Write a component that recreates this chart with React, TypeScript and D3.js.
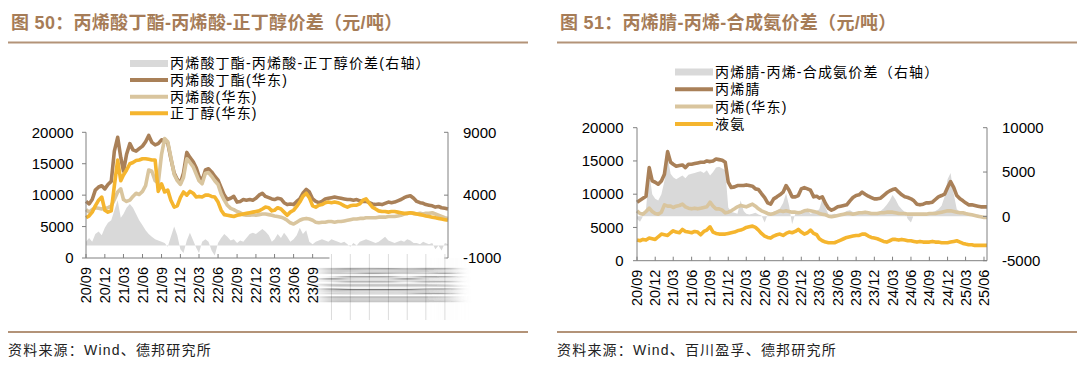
import React from "react";
import * as d3 from "d3";

// half-monthly readings, first point 2020-09-01
const baPrice = [
  9000, 8600, 9300, 10800, 11300, 11500, 11000, 11700, 12200, 17000, 19200, 16000,
  13800, 16500, 18200, 17200, 17000, 17400, 17800, 18500, 19500, 18400, 18000, 18200,
  18800, 18700, 18300, 15800, 13500, 12500, 11900, 13500, 16800, 16000, 15300, 14300,
  13000, 12300, 14000, 14200, 13700, 13000, 12400, 11200, 10000, 9300, 9500, 9800,
  8900, 9000, 9300, 9200, 9300, 9200, 9500, 10000, 10300, 9800, 9600, 9400,
  9300, 9500, 9400, 8800, 8500, 8600, 8500, 9000, 9400, 10300, 10900, 10500,
  9400, 9000, 8800, 9000, 9400, 9500, 9600, 9700, 9600, 9500, 9400, 9300,
  9300, 9200, 9300, 9100, 9000, 9000, 8800, 8600, 8500, 8600, 8500, 8700,
  8900, 8800, 8900, 9100, 9300, 9600, 9800, 9900, 9500, 9000, 8800, 8700,
  8500, 8400, 8300, 8100, 8200, 8000, 7900, 7800,
];
const aaPrice = [
  7700, 7300, 7700, 8000, 7900, 7800, 7900, 8000, 8300, 9300, 10500, 11000,
  9300, 9000, 9200, 9800, 10300, 10100, 10600, 11500, 14000, 13800, 12300, 11900,
  16500, 19000, 18500, 16000, 13300, 12300, 11700, 12800, 15800, 15200, 14500, 13300,
  12300, 11800, 13500, 13600, 13000, 12300, 11700, 10200, 9200, 8400, 7900, 7700,
  7400, 7200, 6900, 6800, 6800, 6900, 6800, 6900, 7000, 7000, 6900, 6800,
  6700, 6600, 6500, 6300, 6000, 5600, 5400, 5700, 6000, 6200, 6300, 6200,
  6000, 5700, 5600, 5700, 5700, 5800, 5800, 5700, 5800, 5800, 5900, 6000,
  6100, 6200, 6200, 6300, 6300, 6400, 6400, 6400, 6400, 6500, 6500, 6500,
  6600, 6600, 6600, 6700, 6800, 7000, 7100, 7200, 7100, 7000, 7100, 7000,
  7100, 7100, 7200, 7000, 6800, 6600, 6400, 6300,
];
const buohPrice = [
  6400, 6700, 7300, 8300, 9200, 9700, 7600, 7300, 7500, 11500, 15600, 12300,
  13200, 14000, 15000, 15200, 15500, 15600, 15800, 15800, 15700, 15600, 15600, 10600,
  11800, 10500, 10800, 9200, 8100, 8300, 9600, 10500, 10000, 10600, 10300, 9700,
  9800, 9700, 10000, 10000, 9800, 9700, 8900, 7600, 6900, 6800, 6700, 6600,
  6800, 6900, 7000, 7100, 7200, 7300, 7400, 7500, 7800, 8100, 8000, 7500,
  7600, 8000, 7800, 7300, 6800, 7300, 7600, 8200, 8900, 9800, 10300, 9600,
  8300, 8100, 8400, 8500, 8800, 8900, 8800, 8900, 8800, 8600, 8300, 8100,
  8300, 8400, 8400, 8600, 9200, 9400, 8700, 8100, 7800, 7500, 7400, 7400,
  7300, 7400, 7400, 7300, 7200, 7100, 7100, 7200, 7100, 7000, 6900, 6800,
  6700, 6600, 6500, 6400, 6300, 6200, 6100, 6000,
];
const baSpread = [
  300, 600, 300, 900, 1100, 800, 1400, 1800, 2000, 2800, 3600, 2200,
  2500, 3000, 3300, 3000, 2500, 2000, 1600, 1200, 900, 700, 500, 400,
  300, 200, -100, 700, 1500, 800, -300, -600, 400, 1000, 400, -200,
  -600, 300, 500, 300, -400, -800, 200, 600, 900, 700, 400, 500,
  200, 400, 300, 600, 900, 1000, 900, 1100, 1300, 1100, 800, 300,
  500, 900, 600, 1000, 700, 300, 500, 800, 1400, 900, 1200, 300,
  100, 300, 400, 500, 400, 300, 500, 400, 300, 200, 300, 100,
  -100, 200, 0, 300, 400, 500, 400, 300, 200, 300, 500, 700,
  400, 300, 200, 300, 400, 300, 500, 400, 200, 200, 100, 300,
  200, 100, 200, -300, 0, -400, 200, 100,
];

const acnPrice = [
  8800, 9100, 9400, 9700, 14000, 12000, 11800, 11500, 12000, 13000, 16400, 14800,
  14500, 14200, 14300, 14400, 14000, 14500, 14500, 14600, 14700, 14800, 14800, 15000,
  14900, 15000, 15300, 15200, 15100, 14800, 11800, 11000, 11100, 11300, 11300, 11300,
  11400, 11300, 11200, 10800, 10700, 10100, 9500, 8700, 8500, 9300, 9600, 9900,
  10300, 11300, 10600, 9600, 9600, 9800, 10800, 11000, 10800, 10600, 9600, 9700,
  9400, 9600, 8600, 7900, 7600, 7800, 8100, 8200, 8300, 8400, 9000, 9500,
  9800, 9900, 10300, 10000, 9700, 9500, 9300, 9300, 9400, 9800, 10200, 10500,
  10700, 10800, 10300, 9900, 9600, 9500, 9300, 9000, 8500, 8400, 8500, 8700,
  8700, 8800, 9200, 9600, 9800, 10000, 11000, 11900, 11000, 9800, 9300, 9000,
  8700, 8400, 8400, 8300, 8200, 8100, 8100, 8100,
];
const propPrice = [
  7500, 7100, 7000, 7400, 7900, 7400, 7100, 7000, 7300, 8400, 8200, 8200,
  8000, 8200, 8300, 8500, 8100, 7900, 7800, 7900, 7800, 7900, 8000, 8100,
  8800, 8200, 7800, 7800, 7600, 7200, 7300, 7500, 7800, 8100, 8300, 8200,
  8100, 8300, 8500, 8200, 7800, 7500, 7300, 7100, 7000, 7100, 7300, 7500,
  7400, 7500, 7400, 7300, 7300, 7200, 7300, 7500, 7600, 7500, 7400, 7300,
  7100, 7000, 6900, 6700, 6600, 6700, 6800, 6900, 7000, 7100, 7100, 7000,
  7100, 7200, 7200, 7300, 7200, 7100, 7100, 7100, 7200, 7200, 7300, 7300,
  7300, 7200, 7100, 7100, 7100, 7000, 7000, 7000, 7000, 7000, 7000, 7000,
  7100, 7100, 7100, 7200, 7300, 7400, 7500, 7500, 7400, 7300, 7200, 7200,
  7100, 7000, 6900, 6800, 6700, 6600, 6500, 6500,
];
const nh3Price = [
  3100, 3000, 3200, 3100, 3400, 3300, 3200, 3600, 4000, 3900, 3800, 4200,
  4500, 4300, 4200, 4700, 4400, 4300, 4200, 4400, 4300, 3900, 4400, 4600,
  5100, 4300, 4100, 4000, 4000, 4000, 4100, 4200, 4300, 4500, 4600, 4800,
  5000, 5100, 5200, 5000, 4600, 4100, 3700, 3500, 3400, 3700, 3900, 4000,
  3800, 4100, 4300, 4200, 4400, 4700, 4300, 4000, 4200, 4600, 4100, 3900,
  3300, 3000, 2800, 2700, 2700, 2700, 2900, 3100, 3300, 3500, 3600, 3700,
  3800, 3800, 4000, 4000, 3700, 3500, 3400, 3300, 3100, 2900, 2800, 3000,
  3200, 3200, 3100, 3200, 3100, 3000, 3000, 2900, 2800, 2900, 2800, 2800,
  2800, 2900, 2800, 2800, 2700, 2700, 2700, 2800, 2900, 3000, 2800, 2600,
  2500, 2400, 2400, 2300, 2300, 2300, 2300, 2300,
];
const acnSpread = [
  -300, -600, 0, 800, 5000, 2500, 2000, 1800, 2500, 4000, 6700, 4800,
  4400, 4200, 4400, 4600, 4300, 4700, 4800, 4900, 5000, 5100, 4900, 5200,
  4600, 5000, 5500, 5600, 5400, 5200, 1000, 500, 400, 300, 1800, 600,
  300, 200, 300, 400, 200, 100, -700, 200, 300, 500, 700, 900,
  1500, 2600, 1200, -900, 300, 400, 200, 800, 600, 300, 400, 600,
  800, 2000, 1000, 200, 200, 300, 200, 300, 400, 600, 700, 500,
  400, 500, 600, 400, 300, 500, 400, 300, 600, 900, 1300, 1800,
  2400, 1900, 1200, 800, 500, -300, -700, 200, 400, 300, 400, 300,
  400, 500, 600, 800, 1200, 2200, 4200, 4900, 2500, 800, 500, 300,
  200, 300, 200, 100, 200, 100, 0, -100,
];

const tickLabels = [
  "20/09", "20/12", "21/03", "21/06", "21/09", "21/12", "22/03", "22/06", "22/09", "22/12",
  "23/03", "23/06", "23/09", "23/12", "24/03", "24/06", "24/09", "24/12", "25/03", "25/06",
];

const BROWN = "#a98058";
const TAN = "#d9c59e";
const YELLOW = "#f5b52e";
const GRAY = "#d9d9d9";
const AXIS = "#808080";
const NUM_FONT = "'Liberation Sans', Arial, sans-serif";
const CJK_FONT = "'Liberation Sans', 'Noto Sans CJK SC', sans-serif";

const dates = baPrice.map((_, i) => new Date(2020, 8 + Math.floor(i / 2), i % 2 ? 16 : 1));
const tickDates = tickLabels.map(s => new Date(2000 + +s.slice(0, 2), +s.slice(3) - 1, 1));

function Panel(props) {
  const { cfg } = props;
  const p = cfg.plot;
  const x = d3.scaleTime().domain([dates[0], dates[dates.length - 1]]).range([p.l, p.r]);
  const yL = d3.scaleLinear().domain([0, 20000]).range([p.b, p.t]);
  const yR = d3.scaleLinear().domain(cfg.rightDomain).range([p.b, p.t]);

  const line = d3.line<number>().x((_, i) => x(dates[i])).y(d => yL(d));
  const area = d3.area<number>().x((_, i) => x(dates[i])).y0(yR(0)).y1(d => yR(d));

  const blurFrom = cfg.blurFrom ?? tickLabels.length;
  const axisEnd = cfg.blurFrom != null ? x(tickDates[blurFrom]) - 2 : p.r;

  return (
    <g>
      <text x={cfg.x0 + 3} y={29} fontFamily={CJK_FONT} fontSize={18} letterSpacing={0.3} fontWeight="bold" fill="#a67c57">
        {cfg.title}
      </text>
      <line x1={cfg.x0} x2={cfg.x0 + 520} y1={42.5} y2={42.5} stroke="#b39378" strokeWidth={2} />
      <line x1={cfg.x0} x2={cfg.x0 + 520} y1={332} y2={332} stroke="#b39378" strokeWidth={2} />
      <text x={cfg.x0} y={355} fontFamily={CJK_FONT} fontSize={14} letterSpacing={1.2} fill="#222">
        {cfg.source}
      </text>

      {/* legend */}
      <rect x={cfg.legend.x} y={cfg.legend.y - 3.5} width={38} height={7} fill={GRAY} />
      <text x={cfg.legend.x + 40} y={cfg.legend.y} dy="0.35em" fontFamily={CJK_FONT} fontSize={14} letterSpacing={1.2}>
        {cfg.spread.name}
      </text>
      {cfg.lines.map((s, i) => {
        const ly = cfg.legend.y + (i + 1) * cfg.legend.step;
        return (
          <g key={s.name}>
            <line x1={cfg.legend.x} x2={cfg.legend.x + 38} y1={ly} y2={ly} stroke={s.color} strokeWidth={4} />
            <text x={cfg.legend.x + 40} y={ly} dy="0.35em" fontFamily={CJK_FONT} fontSize={14} letterSpacing={1.2}>
              {s.name}
            </text>
          </g>
        );
      })}

      {/* spread on right axis */}
      <path d={area(cfg.spread.values)} fill={GRAY} />
      {cfg.lines.map(s => (
        <path key={s.name} d={line(s.values)} fill="none" stroke={s.color} strokeWidth={3.6} strokeLinejoin="round" />
      ))}

      {/* left axis */}
      <line x1={p.l} x2={p.l} y1={p.t} y2={p.b} stroke={AXIS} />
      {yL.ticks(4).map(t => (
        <g key={t}>
          <line x1={p.l - 4} x2={p.l} y1={yL(t)} y2={yL(t)} stroke={AXIS} />
          <text x={cfg.leftLabelX} y={yL(t)} dy="0.35em" textAnchor="end" fontFamily={NUM_FONT} fontSize={15}>
            {t}
          </text>
        </g>
      ))}

      {/* right axis */}
      <line x1={p.r} x2={p.r} y1={p.t} y2={p.b} stroke={AXIS} />
      {cfg.rightTicks.map(t => (
        <g key={t}>
          <line x1={p.r - 4} x2={p.r} y1={yR(t)} y2={yR(t)} stroke={AXIS} />
          <text x={cfg.rightLabelX} y={yR(t)} dy="0.35em" fontFamily={NUM_FONT} fontSize={15}>
            {t}
          </text>
        </g>
      ))}

      {/* bottom axis */}
      <line x1={p.l} x2={axisEnd} y1={p.b} y2={p.b} stroke={AXIS} />
      {tickDates.map((d, i) => (
        i < blurFrom ? (
          <g key={i}>
            <line x1={x(d)} x2={x(d)} y1={p.b} y2={p.b - 4} stroke={AXIS} />
            <text transform={`translate(${x(d)},${p.b + 9}) rotate(-90)`} dy="0.35em" textAnchor="end"
              fontFamily={NUM_FONT} fontSize={14.5}>
              {tickLabels[i]}
            </text>
          </g>
        ) : (
          <line key={i} x1={x(d)} x2={x(d)} y1={p.b - 4} y2={p.b + 62} stroke="#dcdcdc" />
        )
      ))}
      {cfg.blurFrom != null && (
        <g filter="url(#smear)">
          <line x1={p.r} x2={p.r} y1={p.b} y2={p.b + 62} stroke="#cfcfcf" />
          {tickDates.slice(blurFrom).map((d, i) => (
            <text key={i} transform={`translate(${x(d)},${p.b + 9}) rotate(-90)`} dy="0.35em" textAnchor="end"
              fontFamily={NUM_FONT} fontSize={14.5}>
              {tickLabels[blurFrom + i]}
            </text>
          ))}
        </g>
      )}
    </g>
  );
}

const leftCfg = {
  x0: 8,
  title: "图 50：丙烯酸丁酯-丙烯酸-正丁醇价差（元/吨）",
  source: "资料来源：Wind、德邦研究所",
  plot: { l: 86, r: 448, t: 132.3, b: 258 },
  rightDomain: [-1000, 9000],
  rightTicks: [-1000, 4000, 9000],
  leftLabelX: 73.5,
  rightLabelX: 463,
  legend: { x: 130, y: 63.5, step: 16.6 },
  spread: { name: "丙烯酸丁酯-丙烯酸-正丁醇价差(右轴）", values: baSpread },
  lines: [
    { name: "丙烯酸丁酯(华东)", values: baPrice, color: BROWN },
    { name: "丙烯酸(华东)", values: aaPrice, color: TAN },
    { name: "正丁醇(华东)", values: buohPrice, color: YELLOW },
  ],
  blurFrom: 13,
};

const rightCfg = {
  x0: 557,
  title: "图 51：丙烯腈-丙烯-合成氨价差（元/吨）",
  source: "资料来源：Wind、百川盈孚、德邦研究所",
  plot: { l: 637, r: 987, t: 127.7, b: 260.7 },
  rightDomain: [-5000, 10000],
  rightTicks: [-5000, 0, 5000, 10000],
  leftLabelX: 623.5,
  rightLabelX: 1002,
  legend: { x: 675, y: 72, step: 17.3 },
  spread: { name: "丙烯腈-丙烯-合成氨价差（右轴）", values: acnSpread },
  lines: [
    { name: "丙烯腈", values: acnPrice, color: BROWN },
    { name: "丙烯(华东)", values: propPrice, color: TAN },
    { name: "液氨", values: nh3Price, color: YELLOW },
  ],
};

export default function App() {
  return (
    <svg width={1080} height={384} style={{ position: "absolute", left: 0, top: 0, background: "#fff" }}>
      <defs>
        <filter id="smear" x="-40%" y="-10%" width="180%" height="120%">
          <feGaussianBlur stdDeviation="9 0.7" />
        </filter>
      </defs>
      <rect width={1080} height={384} fill="#fff" />
      <Panel cfg={leftCfg} />
      <Panel cfg={rightCfg} />
    </svg>
  );
}
